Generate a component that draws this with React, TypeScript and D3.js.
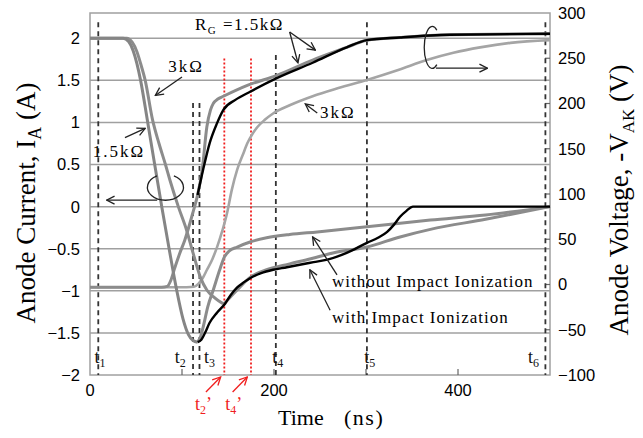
import { useEffect, useRef } from "react"
import * as d3 from "d3"

type Pt = [number, number]

const timeTicks = [0, 100, 200, 300, 400, 500]
const timeLabels = [0, 200, 400]
const currentTicks = [-2, -1.5, -1, -0.5, 0, 0.5, 1, 1.5, 2]
const voltageTicks = [-100, -50, 0, 50, 100, 150, 200, 250, 300]

// anode current (ns, A)
const currentFall15k: Pt[] = [[0, 2], [36, 2], [42, 1.96], [47, 1.85], [51, 1.7], [55, 1.5], [62, 1.05], [70, 0.52], [78, 0], [86, -0.5], [94, -0.98], [101, -1.33], [107, -1.52], [112, -1.59], [117, -1.61]]
const currentWithII: Pt[] = [[117, -1.61], [121, -1.58], [125, -1.5], [130, -1.38], [138, -1.26], [147, -1.15], [153, -1.05], [160, -0.96], [167, -0.9], [174, -0.85], [186, -0.79], [199, -0.75], [214, -0.72], [228, -0.69], [243, -0.66], [258, -0.63], [279, -0.55], [301, -0.43], [313, -0.37], [323, -0.3], [330, -0.22], [337, -0.12], [344, -0.05], [351, 0], [500, 0]]
const currentWithoutII: Pt[] = [[117, -1.61], [120, -1.55], [123, -1.43], [128, -1.19], [134, -0.99], [141, -0.75], [146, -0.6], [151, -0.53], [160, -0.48], [174, -0.42], [192, -0.37], [217, -0.33], [247, -0.3], [301, -0.24], [370, -0.16], [430, -0.1], [500, 0]]
const current3k: Pt[] = [[0, 2], [40, 2], [46, 1.95], [51, 1.84], [55, 1.7], [60, 1.5], [68, 1.03], [75, 0.75], [82, 0.5], [87, 0.31], [96, 0], [105, -0.28], [112, -0.55], [120, -0.84], [127, -0.99], [134, -1.07], [140, -1.12], [145, -1.15], [152, -1.08], [160, -0.99], [174, -0.84], [192, -0.75], [217, -0.68], [240, -0.62], [264, -0.55], [301, -0.48], [337, -0.36], [370, -0.27], [430, -0.15], [500, 0]]

// anode voltage -VAK (ns, V)
const voltageWithII: Pt[] = [[0, -3], [78, -3], [84, -2], [88, 5], [92, 18], [97, 33], [103, 49], [112, 80], [117, 99], [123, 127], [130, 156], [138, 178], [145, 193], [158, 204], [174, 213], [203, 228], [242, 245], [279, 262], [301, 270], [337, 273], [391, 276], [500, 277]]
const voltageWithoutII: Pt[] = [[0, -3], [78, -3], [84, -2], [88, 5], [92, 18], [97, 33], [103, 49], [112, 80], [117, 99], [122, 127], [127, 174], [131, 193], [134, 200], [139, 205], [145, 208], [171, 220], [203, 231], [242, 248], [279, 262], [301, 270], [337, 273], [391, 276], [500, 277]]
const voltage3k: Pt[] = [[0, -3], [105, -3], [113, -2.5], [118, 1], [123, 8], [127, 16], [133, 28], [138, 41], [144, 60], [149, 79], [154, 104], [160, 127], [166, 143], [171, 156], [177, 167], [182, 174], [190, 182], [199, 189], [217, 198], [242, 208], [270, 217], [301, 226], [335, 237], [366, 248], [395, 256], [424, 262], [457, 267], [500, 270]]

// time markers (ns), top end of the dashed line in A
const events = [
  { name: "1", t: 9, top: 2.19, labelT: 5 },
  { name: "2", t: 112, top: 1.23, labelT: 92 },
  { name: "3", t: 119, top: 1.23, labelT: 124 },
  { name: "4", t: 202, top: 1.8, labelT: 198 },
  { name: "5", t: 301, top: 2.19, labelT: 298 },
  { name: "6", t: 495, top: 2.19, labelT: 476 },
]
const primeEvents = [
  { name: "2", t: 146, top: 1.76, labelT: 114 },
  { name: "4", t: 175, top: 1.76, labelT: 147 },
]

export default function App() {
  const svgRef = useRef<SVGSVGElement>(null)

  useEffect(() => {
    if (!svgRef.current) return
    const svg = d3.select(svgRef.current)
    svg.selectAll("*").remove()

    const plot = { left: 90, right: 550, top: 13, bottom: 375 }
    const x = d3.scaleLinear().domain([0, 500]).range([plot.left, plot.right])
    const yI = d3.scaleLinear().domain([-2, 2.3]).range([plot.bottom, plot.top])
    const yV = d3.scaleLinear().domain([-100, 300]).range([plot.bottom, plot.top])

    const serif = "'Liberation Serif', 'Times New Roman', serif"
    const sans = "'Liberation Sans', Arial, sans-serif"
    const gridColor = "#a0a0a0"
    const red = "#f01e1e"
    const fmt = (d: number) => (d < 0 ? "\u2212" + Math.abs(d) : String(d))

    const defs = svg.append("defs")
    const addMarker = (id: string, color: string) =>
      defs
        .append("marker")
        .attr("id", id)
        .attr("viewBox", "0 0 10 10")
        .attr("refX", 9)
        .attr("refY", 5)
        .attr("markerWidth", 10)
        .attr("markerHeight", 10)
        .attr("markerUnits", "userSpaceOnUse")
        .attr("orient", "auto")
        .append("path")
        .attr("d", "M1,1 L9,5 L1,9")
        .attr("fill", "none")
        .attr("stroke", color)
        .attr("stroke-width", 1.3)
    addMarker("arr", "#222")
    addMarker("arrRed", red)

    // grid
    svg
      .append("g")
      .selectAll("line")
      .data(currentTicks.filter((d) => d > -2))
      .join("line")
      .attr("x1", plot.left)
      .attr("x2", plot.right)
      .attr("y1", (d) => yI(d))
      .attr("y2", (d) => yI(d))
      .attr("stroke", gridColor)
      .attr("stroke-width", 1.5)

    svg
      .append("rect")
      .attr("x", plot.left)
      .attr("y", plot.top)
      .attr("width", plot.right - plot.left)
      .attr("height", plot.bottom - plot.top)
      .attr("fill", "none")
      .attr("stroke", gridColor)
      .attr("stroke-width", 1.5)

    // tick marks
    svg
      .append("g")
      .selectAll("line")
      .data(timeTicks.slice(1, -1))
      .join("line")
      .attr("x1", (d) => x(d))
      .attr("x2", (d) => x(d))
      .attr("y1", plot.bottom)
      .attr("y2", plot.bottom - 6)
      .attr("stroke", "#666")
      .attr("stroke-width", 1.2)
    svg
      .append("g")
      .selectAll("line")
      .data(voltageTicks.slice(1, -1))
      .join("line")
      .attr("x1", plot.right)
      .attr("x2", plot.right - 5)
      .attr("y1", (d) => yV(d))
      .attr("y2", (d) => yV(d))
      .attr("stroke", "#666")
      .attr("stroke-width", 1.2)

    // tick labels
    svg
      .append("g")
      .selectAll("text")
      .data(currentTicks)
      .join("text")
      .attr("x", 80)
      .attr("y", (d) => yI(d))
      .attr("dy", "0.36em")
      .attr("text-anchor", "end")
      .style("font", `16.5px ${sans}`)
      .text(fmt)
    svg
      .append("g")
      .selectAll("text")
      .data(voltageTicks)
      .join("text")
      .attr("x", 558)
      .attr("y", (d) => yV(d))
      .attr("dy", "0.36em")
      .style("font", `16.5px ${sans}`)
      .text(fmt)
    svg
      .append("g")
      .selectAll("text")
      .data(timeLabels)
      .join("text")
      .attr("x", (d) => x(d))
      .attr("y", 396)
      .attr("text-anchor", "middle")
      .style("font", `16.5px ${sans}`)
      .text(fmt)

    // dashed time markers
    svg
      .append("g")
      .selectAll("line")
      .data(events)
      .join("line")
      .attr("x1", (d) => x(d.t))
      .attr("x2", (d) => x(d.t))
      .attr("y1", (d) => yI(d.top))
      .attr("y2", plot.bottom)
      .attr("stroke", "#333")
      .attr("stroke-width", 1.8)
      .attr("stroke-dasharray", "5,4")
    svg
      .append("g")
      .selectAll("line")
      .data(primeEvents)
      .join("line")
      .attr("x1", (d) => x(d.t))
      .attr("x2", (d) => x(d.t))
      .attr("y1", (d) => yI(d.top))
      .attr("y2", plot.bottom)
      .attr("stroke", red)
      .attr("stroke-width", 1.8)
      .attr("stroke-dasharray", "2,2")

    // curves
    const lineI = d3
      .line<Pt>()
      .x((d) => x(d[0]))
      .y((d) => yI(d[1]))
      .curve(d3.curveMonotoneX)
    const lineV = d3
      .line<Pt>()
      .x((d) => x(d[0]))
      .y((d) => yV(d[1]))
      .curve(d3.curveMonotoneX)

    // the early part of the black voltage trace is hidden under the grey one
    const curves: { d: string | null; color: string; w: number }[] = [
      { d: lineV(voltage3k), color: "#a5a5a5", w: 2.6 },
      { d: lineV(voltageWithoutII), color: "#8c8c8c", w: 3 },
      { d: lineI(current3k), color: "#8c8c8c", w: 3 },
      { d: lineI(currentWithoutII), color: "#8c8c8c", w: 3 },
      { d: lineI(currentFall15k), color: "#858585", w: 3 },
      { d: lineV(voltageWithII.filter((p) => p[0] >= 117)), color: "#000", w: 2.4 },
      { d: lineI(currentWithII), color: "#000", w: 2.4 },
    ]
    svg
      .append("g")
      .selectAll("path")
      .data(curves)
      .join("path")
      .attr("d", (d) => d.d)
      .attr("fill", "none")
      .attr("stroke", (d) => d.color)
      .attr("stroke-width", (d) => d.w)
      .attr("stroke-linejoin", "round")

    // time marker labels
    const tLabel = (px: number, py: number, sub: string, color: string, prime: boolean) => {
      const t = svg
        .append("text")
        .attr("x", px)
        .attr("y", py)
        .attr("fill", color)
        .style("font", `18px ${serif}`)
      t.append("tspan").text("t")
      t.append("tspan").attr("dy", 4).style("font-size", "12px").text(sub)
      if (prime) t.append("tspan").attr("dy", -4).text("\u2019")
    }
    events.forEach((e) => tLabel(x(e.labelT), 363, e.name, "#111", false))
    primeEvents.forEach((e) => {
      tLabel(x(e.labelT), 410, e.name, red, true)
      svg
        .append("line")
        .attr("x1", x(e.t - 20))
        .attr("y1", plot.bottom + 17)
        .attr("x2", x(e.t - 4))
        .attr("y2", plot.bottom + 2)
        .attr("stroke", red)
        .attr("stroke-width", 1.3)
        .attr("marker-end", "url(#arrRed)")
    })

    // annotations
    const arrow = (x1: number, y1: number, x2: number, y2: number) =>
      svg
        .append("line")
        .attr("x1", x1)
        .attr("y1", y1)
        .attr("x2", x2)
        .attr("y2", y2)
        .attr("stroke", "#222")
        .attr("stroke-width", 1.3)
        .attr("marker-end", "url(#arr)")
    const label = (px: number, py: number, txt: string, size = 17, ls = 2) =>
      svg
        .append("text")
        .attr("x", px)
        .attr("y", py)
        .style("font", `${size}px ${serif}`)
        .style("letter-spacing", `${ls}px`)
        .text(txt)

    // R_G = 1.5 kOhm
    const rg = svg
      .append("text")
      .attr("x", x(114))
      .attr("y", yV(281))
      .style("font", `17px ${serif}`)
      .style("letter-spacing", "1.5px")
    rg.append("tspan").text("R")
    rg.append("tspan").attr("dy", 4).style("font-size", "11px").text("G")
    rg.append("tspan").attr("dy", -4).text(" =1.5k\u03a9")
    arrow(x(217), yV(279), x(245), yV(259))
    arrow(x(217), yV(279), x(226), yV(245))

    label(x(85), yI(1.6), "3k\u03a9")
    arrow(x(100), yI(1.54), x(71), yI(1.32))
    label(x(3), yI(0.59), "1.5k\u03a9")
    arrow(x(38), yI(0.82), x(60), yI(0.93))

    label(x(250), yV(184), "3k\u03a9")
    arrow(x(247), yV(189.5), x(234), yV(199.5))

    label(x(263), yI(-0.955), "without Impact Ionization", 17, 1)
    arrow(x(268.5), yI(-0.81), x(242), yI(-0.36))
    label(x(263), yI(-1.383), "with Impact Ionization", 17, 1)
    arrow(x(261), yI(-1.23), x(239), yI(-0.75))

    // axis pointers (loop + arrow)
    const loop = (cx: number, cy: number, rx: number, ry: number, a0: number, a1: number, sweep: number) => {
      const p0 = [cx + rx * Math.cos(a0), cy + ry * Math.sin(a0)]
      const p1 = [cx + rx * Math.cos(a1), cy + ry * Math.sin(a1)]
      svg
        .append("path")
        .attr("d", `M${p0[0]},${p0[1]} A${rx},${ry} 0 1 ${sweep} ${p1[0]},${p1[1]}`)
        .attr("fill", "none")
        .attr("stroke", "#222")
        .attr("stroke-width", 1.3)
    }
    const rad = Math.PI / 180
    loop(x(82), yI(0.23), 18, 13, -62 * rad, -118 * rad, 1)
    arrow(x(73), yI(0.077), x(18), yI(0.077))
    loop(x(372), yV(262), 8, 21, -55 * rad, 55 * rad, 0)
    arrow(x(376), yV(239), x(432), yV(239))

    // axis titles
    const left = svg
      .append("text")
      .attr("transform", "translate(35,203) rotate(-90)")
      .attr("text-anchor", "middle")
      .style("font", `27px ${serif}`)
    left.append("tspan").text("Anode Current, I")
    left.append("tspan").attr("dy", 6).style("font-size", "18px").text("A")
    left.append("tspan").attr("dy", -6).text(" (A)")

    const right = svg
      .append("text")
      .attr("transform", "translate(628,200) rotate(-90)")
      .attr("text-anchor", "middle")
      .style("font", `27px ${serif}`)
    right.append("tspan").text("Anode Voltage, -V")
    right.append("tspan").attr("dy", 6).style("font-size", "17px").text("AK")
    right.append("tspan").attr("dy", -6).text(" (V)")

    svg.append("text").attr("x", 278).attr("y", 425).style("font", `22px ${serif}`).text("Time")
    svg
      .append("text")
      .attr("x", 344)
      .attr("y", 425)
      .style("font", `22px ${serif}`)
      .style("letter-spacing", "1.5px")
      .text("(ns)")
  }, [])

  return (
    <svg
      ref={svgRef}
      width={643}
      height={438}
      style={{ position: "absolute", left: 0, top: 0, background: "#fff" }}
    />
  )
}
